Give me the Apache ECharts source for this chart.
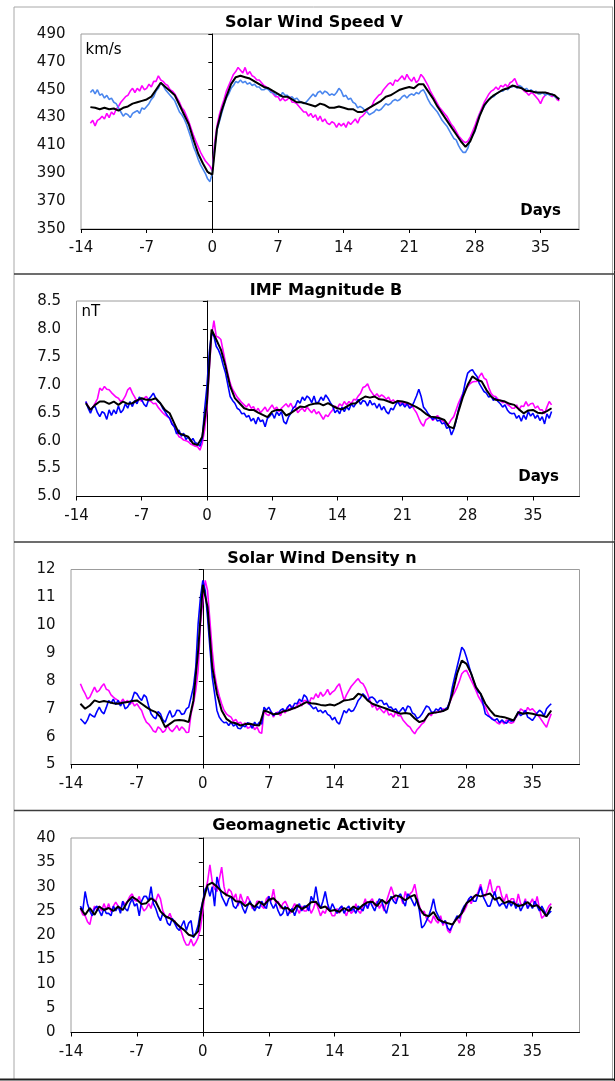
<!DOCTYPE html>
<html>
<head>
<meta charset="utf-8">
<title>Superposed epoch: solar wind and geomagnetic activity</title>
<script src="https://cdn.jsdelivr.net/npm/echarts@6.0.0/dist/echarts.min.js"></script>
<style>
    html, body { margin: 0; padding: 0; background: #ffffff; }
    #chart { width: 615px; height: 1081px; }
</style>
</head>
<body>
<div id="chart"></div>
<script>
// days from key time, coloured curves every 6 h, black curve every 12 h
var dayTicks = [-14, -7, 0, 7, 14, 21, 28, 35];
var dayStart = -13;
var colourStep = 0.25;
var blackStep = 0.5;

// Solar Wind Speed V (km/s)
var speedMagenta = [
    426,428,424,428,429,431,429,433, 430,434,432,436,438,441,443,445,
    446,449,451,448,451,449,453,450, 451,454,452,456,456,460,457,456,
    454,453,450,449,447,444,441,437, 435,431,427,422,417,413,409,405,
    402,399,397,395,392,412,424,432, 438,443,449,453,457,461,463,466,
    464,462,466,461,463,460,459,457, 457,455,453,452,451,449,447,445,
    445,442,444,442,443,445,441,441, 440,438,436,434,434,431,433,430,
    432,428,431,427,429,426,425,427, 426,423,426,424,426,423,427,425,
    427,429,426,430,431,433,435,437, 438,442,444,446,447,450,452,454,
    455,453,457,456,458,460,457,461, 458,456,459,455,457,461,459,456,
    453,449,446,443,440,437,435,433, 431,428,425,423,420,417,415,413,
    412,413,416,420,424,429,433,437, 441,444,447,449,450,452,450,453,
    452,454,452,455,456,458,454,452, 451,449,448,446,448,447,445,443,
    440,444,446,448,446,445,446,443, 442
];
var speedBlue = [
    448,450,447,450,446,447,444,446, 443,444,441,440,437,434,431,433,
    432,430,433,434,435,433,437,436, 438,440,443,445,449,451,455,453,
    450,448,446,444,442,438,434,432, 429,425,420,415,409,405,400,396,
    393,390,386,384,390,408,421,427, 433,439,444,447,451,453,456,455,
    457,455,456,454,455,453,454,452, 452,450,450,451,450,448,448,446,
    447,445,448,446,446,444,445,443, 444,442,441,440,441,443,445,447,
    445,448,449,447,449,448,446,447, 446,448,451,449,445,446,443,444,
    441,440,437,438,437,435,434,432, 433,434,436,435,436,438,440,439,
    440,442,443,442,443,445,446,444, 446,447,446,448,447,449,450,447,
    443,440,438,436,434,431,428,426, 424,421,418,415,414,410,407,405,
    405,408,414,417,420,426,432,435, 438,441,443,445,445,447,448,449,
    449,451,450,452,452,453,451,453, 452,450,451,449,450,448,449,447,
    447,448,446,447,446,447,445,444, 444
];
var speedBlack = [
    437.5,437,436,437,436,436.5,435,437, 438,440,441,442,443,445,450,455,
    452,449,446,439,432,425,414,404, 397,391,389,422,435,445,454,459,
    460,459,458,456,454,452,451,449, 447,445,445,443,441,441,440,439,
    438,440,439,437,437,438,437,436, 436,434,434,436,438,440,442,445,
    446,448,450,451,452,451,454,454, 449,444,438,433,428,423,418,413,
    409,413,421,431,439,443,446,448, 450,451,453,452,451,449,449,448,
    448,448,447,446,443
];
var speedAxis = {min: 350, max: 490, interval: 20, digits: 0};

// IMF Magnitude B (nT)
var imfMagenta = [
    6.70,6.62,6.55,6.60,6.67,6.75,6.94,6.90, 6.97,6.92,6.91,6.86,6.82,6.78,6.76,6.70,
    6.73,6.80,6.91,6.95,6.85,6.78,6.70,6.74, 6.70,6.76,6.79,6.72,6.70,6.66,6.67,6.60,
    6.55,6.50,6.46,6.43,6.40,6.30,6.25,6.15, 6.07,6.05,6.01,6.00,5.98,5.94,5.92,5.90,
    5.89,5.83,5.95,6.19,6.55,7.27,7.87,8.15, 7.87,7.85,7.81,7.60,7.39,7.20,7.03,6.92,
    6.85,6.78,6.73,6.68,6.64,6.60,6.66,6.58, 6.61,6.52,6.58,6.50,6.55,6.60,6.52,6.58,
    6.64,6.56,6.60,6.52,6.58,6.62,6.66,6.60, 6.67,6.58,6.62,6.50,6.55,6.58,6.52,6.60,
    6.55,6.50,6.56,6.48,6.52,6.45,6.38,6.46, 6.43,6.50,6.55,6.62,6.58,6.66,6.62,6.70,
    6.64,6.70,6.66,6.74,6.73,6.80,6.85,6.95, 6.97,7.02,6.91,6.85,6.79,6.84,6.78,6.82,
    6.79,6.74,6.78,6.70,6.73,6.68,6.72,6.66, 6.70,6.64,6.68,6.60,6.64,6.56,6.50,6.40,
    6.31,6.26,6.37,6.40,6.43,6.36,6.40,6.45, 6.40,6.36,6.33,6.28,6.31,6.38,6.43,6.55,
    6.67,6.76,6.85,6.92,6.97,7.02,7.05,7.06, 7.06,7.15,7.21,7.12,7.09,6.95,6.85,6.80,
    6.79,6.74,6.72,6.68,6.70,6.65,6.62,6.58, 6.58,6.64,6.55,6.62,6.61,6.70,6.62,6.66,
    6.67,6.58,6.62,6.55,6.55,6.48,6.60,6.70, 6.64
];
var imfBlue = [
    6.70,6.58,6.49,6.60,6.61,6.50,6.43,6.52, 6.49,6.38,6.55,6.45,6.55,6.48,6.62,6.50,
    6.55,6.66,6.58,6.70,6.61,6.72,6.66,6.78, 6.73,6.65,6.61,6.74,6.79,6.85,6.76,6.70,
    6.67,6.58,6.52,6.45,6.40,6.30,6.25,6.12, 6.19,6.08,6.13,6.02,6.07,5.98,6.04,5.96,
    5.95,5.90,6.04,6.55,6.97,7.57,7.93,7.87, 7.69,7.62,7.51,7.35,7.21,7.00,6.79,6.72,
    6.67,6.58,6.55,6.48,6.49,6.42,6.45,6.35, 6.40,6.30,6.42,6.34,6.37,6.25,6.40,6.44,
    6.49,6.40,6.52,6.45,6.52,6.34,6.30,6.42, 6.49,6.58,6.62,6.72,6.67,6.78,6.72,6.80,
    6.76,6.68,6.80,6.66,6.70,6.78,6.72,6.82, 6.76,6.68,6.62,6.50,6.55,6.48,6.60,6.52,
    6.61,6.55,6.66,6.60,6.67,6.74,6.65,6.72, 6.70,6.62,6.72,6.64,6.67,6.58,6.66,6.55,
    6.61,6.52,6.48,6.58,6.55,6.64,6.70,6.62, 6.67,6.60,6.66,6.58,6.61,6.70,6.80,6.92,
    6.79,6.60,6.55,6.48,6.43,6.38,6.42,6.35, 6.37,6.30,6.32,6.22,6.25,6.10,6.20,6.35,
    6.55,6.70,6.85,7.05,7.21,7.25,7.27,7.20, 7.15,7.02,6.95,6.88,6.85,6.78,6.80,6.72,
    6.76,6.70,6.66,6.60,6.64,6.55,6.50,6.48, 6.49,6.40,6.45,6.35,6.46,6.38,6.52,6.44,
    6.49,6.40,6.46,6.36,6.43,6.30,6.48,6.40, 6.52
];
var imfBlack = [
    6.67,6.55,6.64,6.70,6.70,6.66,6.70,6.64, 6.70,6.66,6.67,6.72,6.76,6.73,6.73,6.76,
    6.67,6.55,6.49,6.31,6.13,6.10,6.07,5.95, 5.92,6.07,6.67,7.99,7.81,7.63,7.33,6.97,
    6.76,6.67,6.58,6.55,6.55,6.50,6.46,6.42, 6.52,6.55,6.55,6.45,6.49,6.55,6.61,6.60,
    6.64,6.66,6.67,6.63,6.67,6.62,6.58,6.56, 6.61,6.66,6.67,6.74,6.79,6.77,6.79,6.74,
    6.73,6.70,6.67,6.71,6.70,6.68,6.64,6.60, 6.55,6.48,6.43,6.42,6.40,6.37,6.25,6.22,
    6.52,6.79,7.00,7.15,7.09,7.06,6.91,6.79, 6.73,6.72,6.70,6.66,6.64,6.56,6.49,6.54,
    6.55,6.50,6.49,6.53,6.58
];
var imfAxis = {min: 5, max: 8.5, interval: 0.5, digits: 1};

// Solar Wind Density n
var densMagenta = [
    7.90,7.70,7.54,7.35,7.42,7.60,7.78,7.60, 7.66,7.80,7.90,7.70,7.66,7.50,7.42,7.35,
    7.30,7.20,7.35,7.22,7.30,7.15,7.25,7.10, 7.18,7.05,6.94,6.70,6.52,6.45,6.34,6.20,
    6.16,6.35,6.28,6.15,6.22,6.40,6.25,6.18, 6.28,6.40,6.22,6.35,6.28,6.15,6.16,6.82,
    7.18,7.66,8.38,10.05,10.89,11.61,11.25,10.17, 9.09,8.26,7.78,7.45,7.18,6.95,6.82,6.75,
    6.70,6.55,6.62,6.48,6.52,6.40,6.50,6.30, 6.34,6.45,6.25,6.35,6.16,6.12,6.94,6.80,
    6.76,6.90,6.70,6.85,6.88,6.75,6.95,6.85, 7.06,6.95,7.10,7.00,7.12,7.25,7.10,7.30,
    7.30,7.15,7.40,7.35,7.54,7.40,7.60,7.45, 7.54,7.70,7.50,7.60,7.66,7.80,7.90,7.60,
    7.30,7.50,7.65,7.80,7.90,8.00,8.08,7.95, 7.90,7.75,7.54,7.30,7.06,7.15,6.95,7.05,
    6.94,6.85,7.00,6.78,6.82,6.70,6.90,6.75, 6.76,6.60,6.50,6.40,6.34,6.20,6.10,6.25,
    6.34,6.45,6.52,6.70,6.82,6.75,6.90,6.85, 6.94,6.88,7.00,6.95,7.06,7.25,7.45,7.60,
    7.78,8.00,8.26,8.35,8.38,8.20,8.02,7.85, 7.66,7.45,7.30,7.15,7.06,6.85,6.70,6.65,
    6.58,6.50,6.45,6.55,6.46,6.60,6.52,6.48, 6.52,6.70,6.80,7.00,6.94,6.85,7.05,6.95,
    7.00,6.90,6.80,6.70,6.58,6.45,6.34,6.60, 6.82
];
var densBlue = [
    6.64,6.55,6.46,6.60,6.82,6.75,6.70,6.90, 7.06,6.90,6.82,7.05,7.30,7.20,7.35,7.15,
    7.30,7.10,7.25,7.00,7.06,7.20,7.35,7.60, 7.54,7.40,7.30,7.50,7.42,7.10,6.82,6.70,
    6.64,6.90,6.82,6.60,6.52,6.75,6.94,6.70, 6.76,6.95,6.94,6.80,6.82,7.00,7.06,7.42,
    7.78,8.50,10.05,11.01,11.61,11.25,10.29,9.21, 8.14,7.54,6.94,6.70,6.58,6.50,6.52,6.40,
    6.52,6.38,6.45,6.30,6.28,6.40,6.35,6.50, 6.46,6.30,6.52,6.40,6.52,6.45,7.06,6.95,
    7.06,6.90,6.75,6.85,6.82,6.95,7.00,6.90, 7.06,7.15,7.00,7.20,7.18,7.35,7.25,7.50,
    7.42,7.20,7.10,7.00,7.06,6.90,6.95,6.85, 6.94,6.80,6.75,6.60,6.70,6.52,6.45,6.70,
    6.94,6.85,7.00,6.90,6.94,7.10,7.30,7.40, 7.54,7.45,7.30,7.40,7.42,7.35,7.20,7.30,
    7.30,7.15,7.20,7.05,7.06,6.95,7.00,6.85, 6.94,7.05,6.90,7.10,7.06,6.85,6.80,6.65,
    6.70,6.80,6.95,7.10,7.06,6.90,6.85,7.00, 6.94,7.05,6.90,7.00,7.06,7.30,7.78,8.15,
    8.50,8.85,9.21,9.10,8.85,8.55,8.26,8.00, 7.78,7.60,7.54,7.20,6.82,6.75,6.70,6.62,
    6.58,6.65,6.50,6.60,6.52,6.48,6.60,6.55, 6.58,6.70,6.90,6.75,6.82,6.95,6.70,6.65,
    6.58,6.70,6.85,6.95,6.88,6.75,7.00,7.10, 7.18
];
var densBlack = [
    7.18,7.00,7.12,7.30,7.24,7.28,7.24,7.20, 7.18,7.22,7.24,7.28,7.30,7.18,7.06,6.95,
    6.88,6.70,6.34,6.46,6.58,6.60,6.58,6.52, 7.30,9.09,11.45,10.65,8.50,7.54,6.94,6.64,
    6.52,6.48,6.40,6.45,6.46,6.42,6.40,6.94, 6.88,6.80,6.82,6.90,6.94,7.00,7.06,7.15,
    7.24,7.20,7.18,7.14,7.12,7.15,7.12,7.20, 7.30,7.32,7.36,7.54,7.48,7.30,7.18,7.12,
    7.06,7.00,6.94,6.88,6.82,6.85,6.82,6.65, 6.52,6.58,6.82,6.86,6.88,6.92,7.00,7.54,
    8.26,8.73,8.61,8.26,7.78,7.54,7.18,6.95, 6.76,6.72,6.70,6.64,6.58,6.88,6.82,6.85,
    6.82,6.78,6.76,6.70,6.94
];
var densAxis = {min: 5, max: 12, interval: 1, digits: 0};

// Geomagnetic Activity
var geoMagenta = [
    25.5,24.2,24.0,22.8,22.2,24.5,26.0,25.2, 26.0,25.0,26.5,25.2,26.5,24.8,26.0,26.8,
    26.0,25.2,27.0,26.4,27.0,28.0,28.5,27.2, 27.0,28.0,26.0,25.0,25.5,26.5,25.5,27.5,
    27.0,28.5,27.5,25.0,24.0,23.5,24.5,23.2, 23.0,22.0,22.0,20.5,19.0,18.0,18.0,19.2,
    17.8,18.5,19.5,21.5,25.0,29.0,31.0,34.5, 31.0,29.5,29.0,31.5,34.0,30.0,28.0,29.5,
    29.0,27.5,28.5,26.0,28.5,27.0,26.5,28.0, 27.0,25.5,25.5,27.0,27.0,26.0,25.5,27.5,
    28.0,27.0,29.5,26.5,27.0,25.5,26.5,27.0, 26.0,24.5,25.5,26.5,25.5,24.5,26.0,25.0,
    25.0,26.0,24.5,25.5,27.0,25.5,24.0,25.0, 24.5,26.0,25.0,24.0,24.0,25.5,24.5,26.0,
    25.0,24.0,25.5,24.5,25.0,26.5,25.0,24.5, 26.0,27.5,25.5,27.0,27.5,26.0,27.0,25.5,
    26.5,25.0,27.0,28.5,30.0,28.5,27.0,28.0, 28.0,26.5,29.0,27.5,28.5,29.0,30.5,28.0,
    26.0,24.5,25.0,23.5,23.0,22.5,24.0,23.0, 22.5,24.0,22.0,23.0,21.0,20.5,22.0,23.0,
    23.5,22.5,24.5,25.0,26.0,27.5,26.5,28.0, 28.0,29.0,30.5,28.5,28.0,29.5,31.5,29.0,
    28.5,30.0,30.0,28.0,27.0,28.5,26.5,27.5, 27.5,26.0,28.5,26.5,26.0,27.5,25.5,26.5,
    27.5,26.0,28.0,25.5,23.5,24.0,25.0,26.0, 26.5
];
var geoBlue = [
    26.0,25.0,29.0,26.5,25.0,24.0,25.5,26.0, 25.0,24.0,25.5,24.5,24.5,24.0,26.0,25.0,
    26.0,24.5,27.0,25.5,25.0,26.5,27.5,26.0, 26.5,24.0,27.0,28.0,28.0,27.0,30.0,26.5,
    25.5,24.0,23.0,24.5,24.0,22.5,22.0,23.5, 22.5,21.5,21.0,22.0,23.0,21.0,22.5,23.0,
    19.5,20.5,22.0,25.0,27.0,29.5,30.0,28.0, 30.0,26.0,32.0,30.0,28.0,27.0,26.0,27.5,
    28.0,26.0,25.5,26.5,27.0,25.5,24.5,26.0, 27.0,26.0,25.0,26.0,25.5,27.0,26.0,25.5,
    28.0,26.5,25.5,26.5,25.0,24.0,24.5,26.0, 24.0,25.0,25.5,24.0,25.5,26.5,25.0,26.0,
    26.0,25.0,28.0,27.0,30.0,27.0,25.5,27.0, 29.0,26.5,25.0,26.5,25.5,24.5,25.5,26.0,
    24.5,25.5,26.0,25.0,25.5,24.5,26.0,25.5, 25.0,26.5,25.5,27.0,26.0,25.0,26.5,27.5,
    27.0,25.5,24.5,26.5,28.0,27.0,26.5,28.0, 28.5,27.0,26.0,28.5,28.0,27.0,26.0,27.5,
    25.0,21.5,22.0,23.0,24.0,25.5,27.5,25.0, 24.0,23.0,22.5,23.0,21.5,21.0,22.0,23.0,
    24.0,23.5,25.0,26.0,26.5,27.5,28.0,27.0, 27.0,28.5,30.0,28.0,27.0,26.0,26.0,27.5,
    29.0,27.0,26.0,26.5,26.5,25.5,27.0,26.0, 27.0,25.5,26.5,25.0,26.0,27.0,25.5,26.5,
    25.5,27.0,26.0,25.0,26.0,25.0,24.0,24.5, 25.0
];
var geoBlack = [
    25.6,24.2,25.6,24.2,25.9,25.2,25.6,25.0, 25.9,25.2,26.9,27.9,27.3,26.4,26.6,27.6,
    26.9,24.9,23.9,23.5,22.8,21.8,21.1,20.1, 19.8,20.8,26.9,30.3,30.8,30.0,29.0,28.3,
    27.9,27.0,26.9,26.0,26.6,25.8,26.9,26.2, 27.3,27.6,26.6,25.5,25.6,24.8,26.2,25.4,
    25.9,26.8,26.9,25.6,25.9,25.0,25.2,24.8, 25.6,25.0,25.9,25.3,26.2,26.8,26.9,26.0,
    27.3,26.5,27.6,28.2,27.9,27.2,27.9,28.3, 25.6,24.2,23.9,24.8,23.2,22.8,22.5,22.2,
    23.5,24.5,26.6,27.3,28.3,28.0,28.3,28.6, 27.3,27.8,26.6,27.0,26.6,26.0,26.2,26.8,
    25.9,26.2,25.2,23.9,25.9
];
var geoAxis = {min: 0, max: 40, interval: 5, digits: 0};

var fontName = 'DejaVu Sans';
var textColor = '#111';

function toPoints(values, step) {
    return values.map(function (v, i) {
        return [dayStart + i * step, v];
    });
}

var panels = [
    {title: 'Solar Wind Speed V', titleX: 314, titleY: 23,
     grid: {left: 81, top: 34, width: 498, height: 195}, xMax: 39.1, axis: speedAxis,
     blue: '#4a86ee', data: [speedMagenta, speedBlue, speedBlack]},
    {title: 'IMF Magnitude B', titleX: 326, titleY: 291,
     grid: {left: 76.5, top: 301, width: 503, height: 195.5}, xMax: 40, axis: imfAxis,
     blue: '#0000ff', data: [imfMagenta, imfBlue, imfBlack]},
    {title: 'Solar Wind Density n', titleX: 322, titleY: 559,
     grid: {left: 71, top: 569.5, width: 508.5, height: 195}, xMax: 40, axis: densAxis,
     blue: '#0000ff', data: [densMagenta, densBlue, densBlack]},
    {title: 'Geomagnetic Activity', titleX: 309, titleY: 826,
     grid: {left: 71, top: 838, width: 508.5, height: 194.5}, xMax: 40, axis: geoAxis,
     blue: '#0000ff', data: [geoMagenta, geoBlue, geoBlack]}
];

var option = {
    animation: false,
    backgroundColor: '#ffffff',
    grid: [],
    xAxis: [],
    yAxis: [],
    series: [],
    graphic: []
};

panels.forEach(function (p, i) {
    option.grid.push({
        left: p.grid.left, top: p.grid.top, width: p.grid.width, height: p.grid.height,
        show: true, borderColor: '#9c9c9c', borderWidth: 1, backgroundColor: 'transparent'
    });
    option.xAxis.push({
        gridIndex: i,
        type: 'value',
        min: -14,
        max: p.xMax,
        interval: 7,
        axisLine: {onZero: false, lineStyle: {color: '#000', width: 1}},
        axisTick: {length: 4, customValues: dayTicks, lineStyle: {color: '#000'}},
        axisLabel: {customValues: dayTicks, margin: 12, fontSize: 15, fontFamily: fontName, color: textColor},
        splitLine: {show: false}
    });
    // labels at the left edge of the plot
    option.yAxis.push({
        gridIndex: i,
        type: 'value',
        position: 'left',
        min: p.axis.min,
        max: p.axis.max,
        interval: p.axis.interval,
        axisLine: {show: false, onZero: false},
        axisTick: {show: false},
        splitLine: {show: false},
        axisLabel: {
            margin: 15.5, fontSize: 15, fontFamily: fontName, color: textColor,
            formatter: (function (d) { return function (v) { return v.toFixed(d); }; })(p.axis.digits)
        }
    });
    // vertical line with ticks through day 0
    option.yAxis.push({
        gridIndex: i,
        type: 'value',
        position: 'left',
        min: p.axis.min,
        max: p.axis.max,
        interval: p.axis.interval,
        axisLine: {show: true, onZero: true, onZeroAxisIndex: i, lineStyle: {color: '#000', width: 1}},
        axisTick: {show: true, length: 4, lineStyle: {color: '#000'}},
        axisLabel: {show: false},
        splitLine: {show: false}
    });

    var colours = ['#ff00ff', p.blue, '#000000'];
    var steps = [colourStep, colourStep, blackStep];
    var widths = [1.6, 1.6, 2];
    for (var k = 0; k < 3; k++) {
        option.series.push({
            type: 'line',
            xAxisIndex: i,
            yAxisIndex: i * 2,
            data: toPoints(p.data[k], steps[k]),
            showSymbol: false,
            symbol: 'none',
            lineStyle: {color: colours[k], width: widths[k]},
            z: 3 + k
        });
    }

    option.graphic.push({
        type: 'text', x: p.titleX, y: p.titleY, z: 10,
        style: {
            text: p.title, fill: '#000', font: 'bold 16px "' + fontName + '"',
            align: 'center', verticalAlign: 'middle', textAlign: 'center', textVerticalAlign: 'middle'
        }
    });
});

function label(text, x, y, bold, align) {
    return {
        type: 'text', x: x, y: y, z: 10,
        style: {
            text: text, fill: '#000', font: (bold ? 'bold ' : '') + '15px "' + fontName + '"',
            align: align, verticalAlign: 'middle', textAlign: align, textVerticalAlign: 'middle'
        }
    };
}
option.graphic.push(label('km/s', 85.5, 50, false, 'left'));
option.graphic.push(label('Days', 561, 211, true, 'right'));
option.graphic.push(label('nT', 81.5, 312.5, false, 'left'));
option.graphic.push(label('Days', 559, 477.5, true, 'right'));

function rule(x1, y1, x2, y2, color, width) {
    return {
        type: 'line', z: 1, silent: true,
        shape: {x1: x1, y1: y1, x2: x2, y2: y2},
        style: {stroke: color, lineWidth: width}
    };
}
// page frame and panel separators
option.graphic.push(rule(14, 7, 613, 7, '#a8a8a8', 1));
option.graphic.push(rule(14, 7, 14, 1079, '#a8a8a8', 1));
option.graphic.push(rule(612.5, 7, 612.5, 1079, '#a8a8a8', 1));
option.graphic.push(rule(614.5, 0, 614.5, 1081, '#202020', 1));
option.graphic.push(rule(14, 274, 615, 274, '#3c3c3c', 1.5));
option.graphic.push(rule(14, 542, 615, 542, '#3c3c3c', 1.5));
option.graphic.push(rule(14, 810.5, 615, 810.5, '#3c3c3c', 1.5));
option.graphic.push(rule(0, 1079.5, 615, 1079.5, '#202020', 2));

var myChart = echarts.init(document.getElementById('chart'), null, {renderer: 'canvas'});
myChart.setOption(option);
</script>
</body>
</html>
